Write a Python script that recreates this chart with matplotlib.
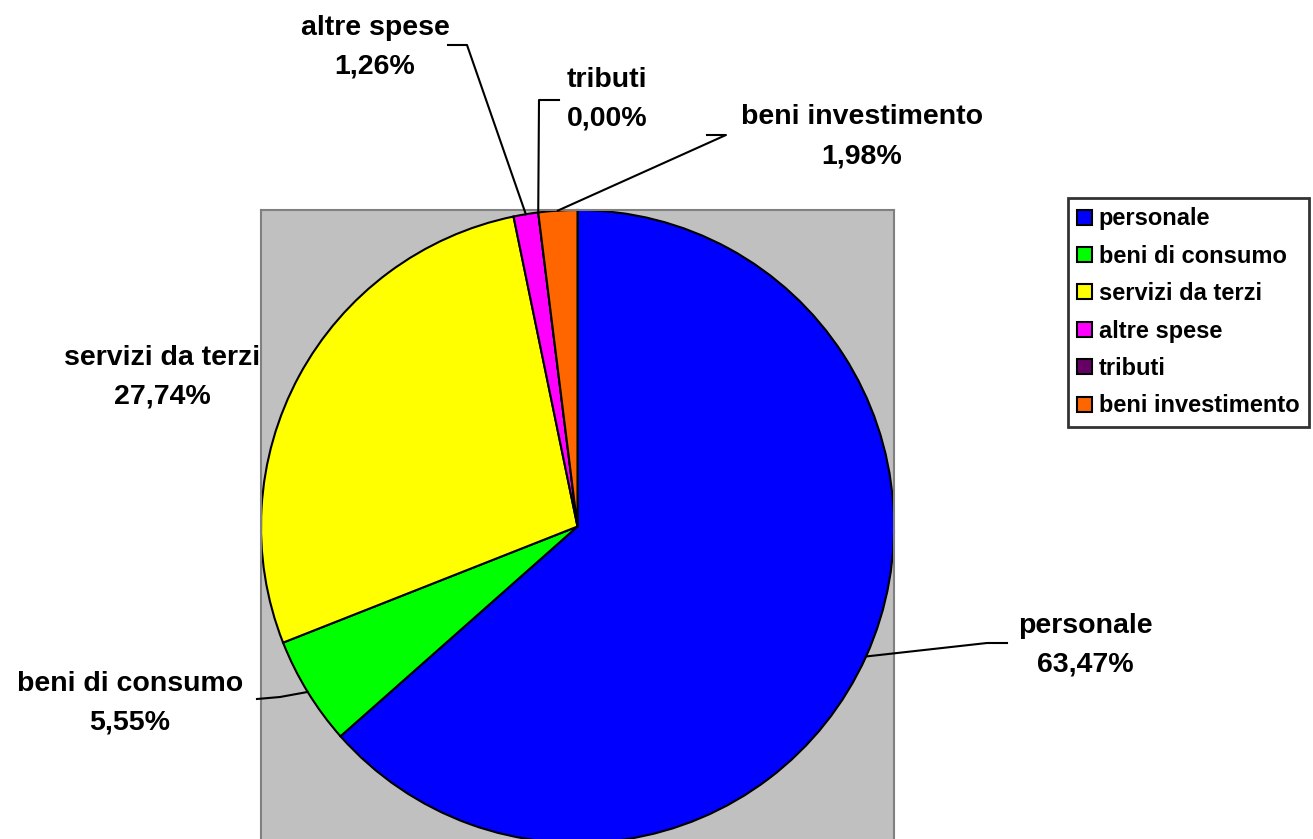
import matplotlib.pyplot as plt
from matplotlib.lines import Line2D
from matplotlib.patches import Patch
import numpy as np

# dati
categorie = ['personale', 'beni di consumo', 'servizi da terzi', 'altre spese', 'tributi', 'beni investimento']
percentuali = [63.47, 5.55, 27.74, 1.26, 0.00, 1.98]
colori = ['#0000ff', '#00ff00', '#ffff00', '#ff00ff', '#660066', '#ff6600']

plt.rcParams['font.family'] = ['Liberation Sans', 'DejaVu Sans']

W, H = 1313, 839
fig = plt.figure(figsize=(W / 100, H / 100), dpi=100)


def px(x, y):
    return x / W, 1 - y / H


# plot area (grey square, pie touches its edges)
ax = fig.add_axes([261 / W, 1 - 843 / H, 633 / W, 633 / H])
ax.set_facecolor('#c0c0c0')
wedges, _ = ax.pie(percentuali, colors=colori, startangle=90, counterclock=False,
                   radius=1, frame=True,
                   wedgeprops=dict(edgecolor='black', linewidth=1.5))
ax.set_xlim(-1.0, 1.0)
ax.set_ylim(-1.0, 1.0)
ax.set_aspect('equal')
ax.set_xticks([])
ax.set_yticks([])
for s in ax.spines.values():
    s.set_color('#808080')
    s.set_linewidth(1.5)

# label layout: text centre (px) and leader elbow (px): (start, elbow) or None
layout = {
    'personale': ((1085, 645), ((1007, 643), (987, 643))),
    'beni di consumo': ((130, 703), ((257, 699), (280, 697))),
    'servizi da terzi': ((162, 377), None),
    'altre spese': ((375, 47), ((448, 45), (467, 45))),
    'tributi': ((607, 99), ((559, 100), (539, 100))),
    'beni investimento': ((862, 136), ((707, 135), (726, 135))),
}

to_fig = fig.transFigure.inverted()
for w, nome, val in zip(wedges, categorie, percentuali):
    (cx, cy), leader = layout[nome]
    testo = f'{val:.2f}%'.replace('.', ',')
    fig.text(*px(cx, cy - 19), nome, ha='center', va='center',
             fontsize=20.5, fontweight='bold')
    fig.text(*px(cx, cy + 20), testo, ha='center', va='center',
             fontsize=20.5, fontweight='bold')
    if leader is None:
        continue
    ang = np.deg2rad((w.theta1 + w.theta2) / 2)
    anc = to_fig.transform(ax.transData.transform((np.cos(ang), np.sin(ang))))
    p0 = px(*leader[0])
    p1 = px(*leader[1])
    fig.add_artist(Line2D([p0[0], p1[0], anc[0]], [p0[1], p1[1], anc[1]],
                          transform=fig.transFigure, color='black', lw=1.5))

handles = [Patch(facecolor=c, edgecolor='black', linewidth=1.5) for c in colori]
leg = fig.legend(handles, categorie, loc='upper left',
                 bbox_to_anchor=(1068 / W, 1 - 198 / H),
                 frameon=True, fancybox=False, borderaxespad=0,
                 handlelength=0.6, handleheight=0.6, handletextpad=0.3,
                 labelspacing=0.61, borderpad=0.4,
                 prop=dict(size=17, weight='bold'))
leg.get_frame().set_edgecolor('black')
leg.get_frame().set_linewidth(2)

fig.savefig('out.png', dpi=100)
